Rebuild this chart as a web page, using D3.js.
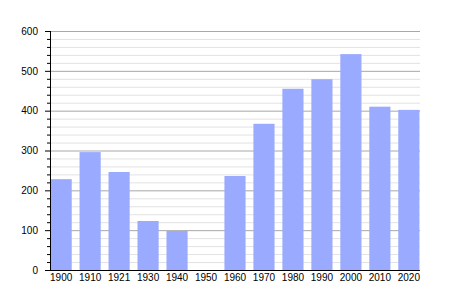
<!DOCTYPE html>
<html>
<head>
<meta charset="utf-8">
<script src="https://cdn.jsdelivr.net/npm/d3@7"></script>
<style>
  body { margin: 0; background: #fff; }
  text { font-family: "Liberation Sans", Arial, sans-serif; font-size: 10px; fill: #000; }
</style>
</head>
<body>
<div id="chart"></div>
<script>
var years = ["1900", "1910", "1921", "1930", "1940", "1950", "1960", "1970", "1980", "1990", "2000", "2010", "2020"];
var population = [228, 296, 246, 123, 98, 0, 236, 367, 455, 479, 542, 410, 402];
var yTicks = [0, 100, 200, 300, 400, 500, 600];

var svgWidth = 450;
var svgHeight = 300;
var margin = { top: 31, right: 30, bottom: 30, left: 50 };
var width = svgWidth - margin.left - margin.right;
var height = svgHeight - margin.top - margin.bottom;

var svg = d3.select("#chart").append("svg")
  .attr("width", svgWidth)
  .attr("height", svgHeight);

var chartGroup = svg.append("g")
  .attr("transform", `translate(${margin.left}, ${margin.top})`);

var xScale = d3.scaleBand()
  .domain(years)
  .range([0, width])
  .paddingInner(0.27)
  .paddingOuter(0.02);

var yScale = d3.scaleLinear()
  .domain([0, 600])
  .range([height, 0]);

// minor grid every 20
chartGroup.append("g").selectAll("line")
  .data(d3.range(20, 600, 20).filter(v => v % 100 !== 0))
  .enter().append("line")
  .attr("x1", 0).attr("x2", width)
  .attr("y1", d => yScale(d) + 0.5).attr("y2", d => yScale(d) + 0.5)
  .attr("stroke", "#e2e2e2");

// major grid every 100
chartGroup.append("g").selectAll("line")
  .data(yTicks.slice(1))
  .enter().append("line")
  .attr("x1", 0).attr("x2", width)
  .attr("y1", d => yScale(d) + 0.5).attr("y2", d => yScale(d) + 0.5)
  .attr("stroke", "#a8a8a8");

// bars
chartGroup.selectAll("rect.bar")
  .data(population)
  .enter().append("rect")
  .attr("class", "bar")
  .attr("x", (d, i) => xScale(years[i]))
  .attr("y", d => yScale(d))
  .attr("width", xScale.bandwidth())
  .attr("height", d => height - yScale(d))
  .attr("fill", "#9aabff");

// y axis
var leftAxis = d3.axisLeft(yScale).tickValues(yTicks).tickSize(5).tickPadding(7);
var yAxis = chartGroup.append("g").call(leftAxis);
yAxis.select(".domain").remove();
yAxis.selectAll("text").style("font-size", "10px");

// minor ticks
chartGroup.append("g").selectAll("line")
  .data(d3.range(20, 600, 20).filter(v => v % 100 !== 0))
  .enter().append("line")
  .attr("x1", -3).attr("x2", 0)
  .attr("y1", d => yScale(d) + 0.5).attr("y2", d => yScale(d) + 0.5)
  .attr("stroke", "#000");

chartGroup.append("line")
  .attr("x1", 0.5).attr("x2", 0.5)
  .attr("y1", 0).attr("y2", height)
  .attr("stroke", "#000");

// x axis
var bottomAxis = d3.axisBottom(xScale).tickSize(0).tickPadding(4);
var xAxis = chartGroup.append("g")
  .attr("transform", `translate(0, ${height})`)
  .call(bottomAxis);
xAxis.select(".domain").remove();
xAxis.selectAll("text").style("font-size", "10px");

chartGroup.append("line")
  .attr("x1", 0).attr("x2", width)
  .attr("y1", height + 0.5).attr("y2", height + 0.5)
  .attr("stroke", "#000");
</script>
</body>
</html>
